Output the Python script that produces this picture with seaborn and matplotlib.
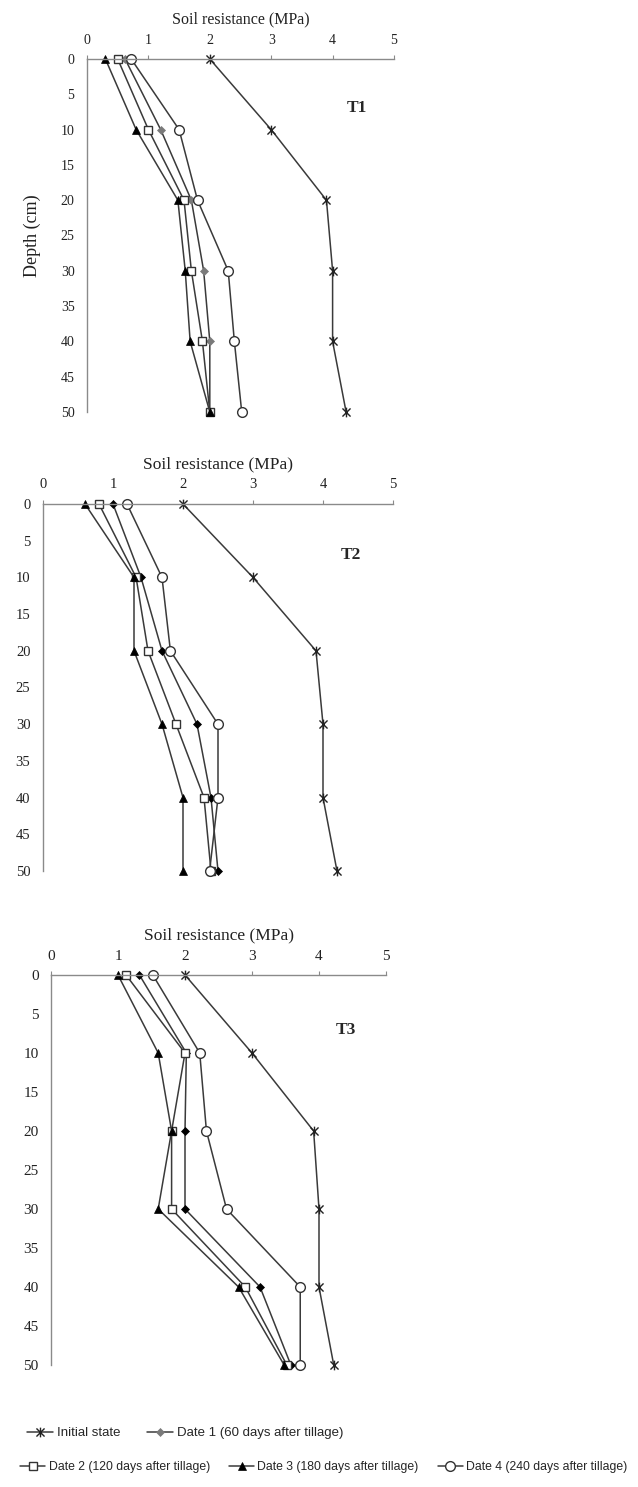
import numpy as np
import pandas as pd
import matplotlib
matplotlib.use("Agg")
import matplotlib.pyplot as plt
from matplotlib.path import Path
from matplotlib.lines import Line2D
import seaborn as sns

sns.set_style("white")
plt.rcParams.update({
    "font.family": ["Liberation Serif", "DejaVu Serif"],
    "axes.edgecolor": "#8a8a8a",
    "xtick.color": "#8a8a8a",
    "ytick.color": "#8a8a8a",
    "xtick.labelcolor": "#222222",
    "ytick.labelcolor": "#222222",
})

depth = [0, 10, 20, 30, 40, 50]
series = ["Initial state", "Date 1 (60 days after tillage)", "Date 2 (120 days after tillage)",
          "Date 3 (180 days after tillage)", "Date 4 (240 days after tillage)"]

t1_initial = [2.0, 3.0, 3.9, 4.0, 4.0, 4.22]
t1_date1 = [0.62, 1.2, 1.7, 1.9, 2.0, 2.0]
t1_date2 = [0.5, 1.0, 1.58, 1.7, 1.88, 2.0]
t1_date3 = [0.3, 0.8, 1.48, 1.6, 1.68, 2.0]
t1_date4 = [0.72, 1.5, 1.8, 2.3, 2.4, 2.52]

t2_initial = [2.0, 3.0, 3.9, 4.0, 4.0, 4.2]
t2_date1 = [1.0, 1.4, 1.7, 2.2, 2.4, 2.5]
t2_date2 = [0.8, 1.33, 1.5, 1.9, 2.3, 2.4]
t2_date3 = [0.6, 1.3, 1.3, 1.7, 2.0, 2.0]
t2_date4 = [1.2, 1.7, 1.82, 2.5, 2.5, 2.38]

t3_initial = [2.0, 3.0, 3.92, 4.0, 4.0, 4.22]
t3_date1 = [1.32, 2.02, 2.0, 2.0, 3.12, 3.58]
t3_date2 = [1.12, 2.0, 1.8, 1.8, 2.9, 3.52]
t3_date3 = [1.0, 1.6, 1.8, 1.6, 2.8, 3.48]
t3_date4 = [1.52, 2.22, 2.32, 2.62, 3.72, 3.72]

panels = {
    "T1": [t1_initial, t1_date1, t1_date2, t1_date3, t1_date4],
    "T2": [t2_initial, t2_date1, t2_date2, t2_date3, t2_date4],
    "T3": [t3_initial, t3_date1, t3_date2, t3_date3, t3_date4],
}

# asterisk marker like excel's star
star = Path([(-1, -1), (1, 1), (-1, 1), (1, -1), (0, -1.2), (0, 1.2)],
            [Path.MOVETO, Path.LINETO, Path.MOVETO, Path.LINETO, Path.MOVETO, Path.LINETO])

line_col = "#3a3a3a"
def styles(panel):
    d1 = "#7a7a7a" if panel == "T1" else "black"
    return [
        dict(marker=star, markersize=7, mfc="none", mec="#222222", mew=1.0),
        dict(marker="D", markersize=4.5, mfc=d1, mec=d1, mew=0.5),
        dict(marker="s", markersize=6, mfc="white", mec="#333333", mew=1.0),
        dict(marker="^", markersize=6, mfc="black", mec="black", mew=0.5),
        dict(marker="o", markersize=7, mfc="white", mec="#333333", mew=1.0),
    ]

W, H = 638, 1487
fig = plt.figure(figsize=(W / 100, H / 100), dpi=100)

# axes boxes in pixels: left, top, right, bottom
boxes = {
    "T1": (87, 59, 394, 412),
    "T2": (43, 504, 393, 871),
    "T3": (51, 975, 386, 1365),
}
title_fs = {"T1": 11.5, "T2": 12.5, "T3": 12.5}
tick_fs = {"T1": 10, "T2": 10.5, "T3": 11}

for name, (l, t, r, b) in boxes.items():
    ax = fig.add_axes([l / W, 1 - b / H, (r - l) / W, (b - t) / H])
    for vals, st in zip(panels[name], styles(name)):
        df = pd.DataFrame({"res": vals, "depth": depth})
        sns.lineplot(data=df, x="res", y="depth", orient="y", sort=False, estimator=None,
                     errorbar=None, ax=ax, color=line_col, linewidth=1.1, clip_on=False, **st)
    ax.set_xlim(0, 5)
    ax.set_ylim(50, 0)
    ax.set_xticks(range(0, 6))
    ax.set_yticks(range(0, 51, 5))
    ax.xaxis.tick_top()
    ax.xaxis.set_label_position("top")
    ax.tick_params(axis="both", direction="out", length=3, width=0.8,
                   labelsize=tick_fs[name], pad=6)
    ax.set_xlabel("Soil resistance (MPa)", fontsize=title_fs[name], labelpad=7, color="#222222")
    if name == "T1":
        ax.set_ylabel("Depth (cm)", fontsize=13, labelpad=14, color="#222222")
    else:
        ax.set_ylabel("")
    for s in ["right", "bottom"]:
        ax.spines[s].set_visible(False)
    for s in ["left", "top"]:
        ax.spines[s].set_linewidth(1.0)
    ax.text(4.4, 7, name, fontsize=12.5, fontweight="bold", ha="center", va="center")

leg_font = ["Liberation Sans", "DejaVu Sans"]
handles = []
for st in styles("T1"):
    handles.append(Line2D([], [], color=line_col, linewidth=1.1, **st))

fig.legend(handles[:2], series[:2], loc="center", bbox_to_anchor=(185 / W, 1 - 1433 / H),
           ncol=2, frameon=False, handlelength=2.0, columnspacing=2.0, handletextpad=0.3,
           prop={"family": leg_font, "size": 9.5})
fig.legend(handles[2:], series[2:], loc="center", bbox_to_anchor=(324 / W, 1 - 1467 / H),
           ncol=3, frameon=False, handlelength=2.0, columnspacing=1.6, handletextpad=0.3,
           prop={"family": leg_font, "size": 8.8})

fig.savefig("out.png", dpi=100)
